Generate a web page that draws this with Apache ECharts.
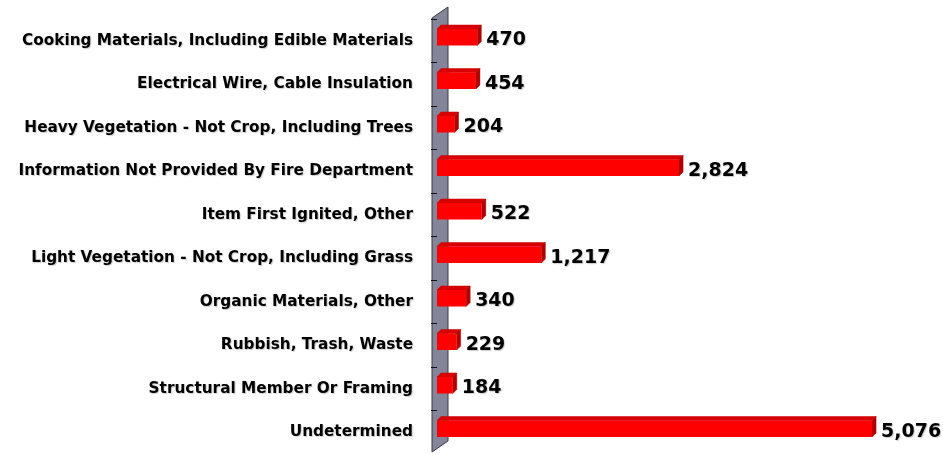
<!DOCTYPE html>
<html>
<head>
<meta charset="utf-8">
<script src="https://cdn.jsdelivr.net/npm/echarts@6/dist/echarts.min.js"></script>
<style>
  html, body { margin: 0; padding: 0; background: #ffffff; }
  #chart { width: 943px; height: 454px; }
</style>
</head>
<body>
<div id="chart"></div>
<script>
// Item first ignited — counts per category
var categories = [
  'Cooking Materials, Including Edible Materials',
  'Electrical Wire, Cable Insulation',
  'Heavy Vegetation - Not Crop, Including Trees',
  'Information Not Provided By Fire Department',
  'Item First Ignited, Other',
  'Light Vegetation - Not Crop, Including Grass',
  'Organic Materials, Other',
  'Rubbish, Trash, Waste',
  'Structural Member Or Framing',
  'Undetermined'
];
var counts = [470, 454, 204, 2824, 522, 1217, 340, 229, 184, 5076];

var FONT = '"DejaVu Sans", sans-serif';
var DX = 4, DY = 4;        // depth of the pseudo-3D bars
var FACE_H = 16.5;         // front face height
var LIFT = 3.5;            // bars sit slightly above the band centre

function renderBar(params, api) {
  var idx = api.value(0);
  var v = api.value(1);
  var start = api.coord([0, idx]);
  var end = api.coord([v, idx]);
  var x0 = start[0], x1 = end[0];
  var cy = end[1] - LIFT;
  var y0 = cy - FACE_H / 2, y1 = cy + FACE_H / 2;
  return {
    type: 'group',
    children: [
      { type: 'polygon', shape: { points: [[x0, y0], [x1, y0], [x1 + DX, y0 - DY], [x0 + DX, y0 - DY]] },
        style: { fill: '#d80000', stroke: '#c00000', lineWidth: 0.5 } },
      { type: 'polygon', shape: { points: [[x1, y0], [x1 + DX, y0 - DY], [x1 + DX, y1 - DY], [x1, y1]] },
        style: { fill: '#b00000', stroke: '#a00000', lineWidth: 0.5 } },
      { type: 'rect', shape: { x: x0, y: y0, width: x1 - x0, height: FACE_H },
        style: { fill: '#ff0000' } },
      { type: 'text', x: x1 + DX + 5, y: end[1] - 0.5,
        style: { text: v.toLocaleString('en-US'), font: 'bold 19px ' + FONT, fill: '#000000',
                 verticalAlign: 'middle', align: 'left',
                 textShadowColor: 'rgba(0,0,0,0.2)', textShadowBlur: 1, textShadowOffsetX: 1, textShadowOffsetY: 1 } }
    ]
  };
}

function renderWall(params, api) {
  var cs = params.coordSys;
  var left = cs.x - 5, right = cs.x + 11;
  var top = cs.y - 1, bottom = cs.y + cs.height - 2;
  var rise = 11;
  return {
    type: 'polygon',
    shape: { points: [[left, top], [right, top - rise], [right, bottom - rise], [left, bottom]] },
    style: { fill: '#84849a', stroke: '#3a3a3a', lineWidth: 1 }
  };
}

var chart = echarts.init(document.getElementById('chart'), null, { renderer: 'canvas' });
chart.setOption({
  animation: false,
  backgroundColor: '#ffffff',
  grid: { left: 437, top: 19, width: 471.4, height: 436 },
  xAxis: {
    type: 'value', min: 0, max: 5500,
    show: false
  },
  yAxis: {
    type: 'category',
    data: categories,
    inverse: true,
    offset: 5,
    z: 10,
    axisLine: { show: false },
    axisTick: { show: true, inside: false, alignWithLabel: false, length: 6, lineStyle: { color: '#111111', width: 1 } },
    axisLabel: {
      margin: 19,
      padding: [4, 0, 0, 0],
      color: '#000000',
      fontFamily: FONT,
      fontWeight: 'bold',
      fontSize: 15.3,
      textShadowColor: 'rgba(0,0,0,0.2)', textShadowBlur: 1, textShadowOffsetX: 1, textShadowOffsetY: 1
    },
    splitLine: { show: false }
  },
  series: [
    {
      type: 'custom',
      renderItem: renderWall,
      data: [[0, 0]],
      z: 1,
      silent: true
    },
    {
      type: 'custom',
      renderItem: renderBar,
      encode: { x: 1, y: 0 },
      data: counts.map(function (c, i) { return [i, c]; }),
      z: 2
    }
  ]
});
</script>
</body>
</html>
